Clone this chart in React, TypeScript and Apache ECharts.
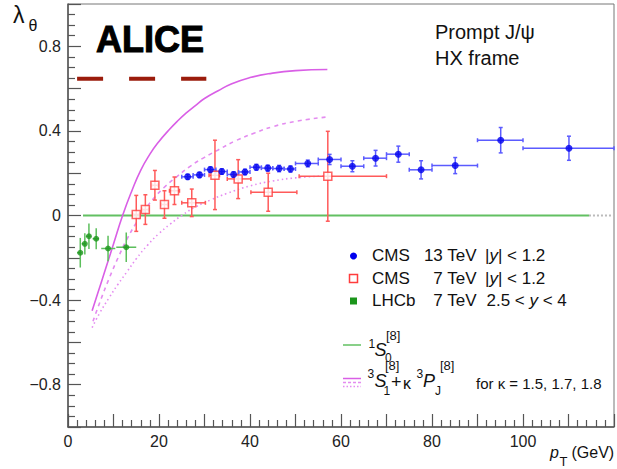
import React, { useEffect, useRef } from 'react';
import * as echarts from 'echarts';

const FONT = '"Liberation Sans", Arial, Helvetica, sans-serif';

// ---- data ----
const lhcbPt = [2.7, 3.7, 4.6, 6.2, 8.8, 12.8];
const lhcbLambda = [-0.176, -0.134, -0.098, -0.11, -0.156, -0.15];
const lhcbErr = [0.07, 0.05, 0.06, 0.05, 0.06, 0.07];
const lhcbPtLow = [2, 3, 4, 5.4, 7.3, 10.6];
const lhcbPtHigh = [3, 4, 5, 6.8, 10.4, 15];

const cms7Pt = [15, 17, 19.1, 21.2, 23.4, 27.2, 32.3, 37.4, 44, 57.1];
const cms7Lambda = [0.005, 0.028, 0.143, 0.052, 0.117, 0.06, 0.19, 0.173, 0.11, 0.186];
const cms7ErrUp = [0.09, 0.07, 0.07, 0.065, 0.065, 0.065, 0.166, 0.091, 0.09, 0.212];
const cms7ErrDown = [0.08, 0.07, 0.07, 0.065, 0.065, 0.065, 0.162, 0.093, 0.09, 0.213];
const cms7PtLow = [14.3, 16.3, 18.4, 20.5, 22.3, 25, 31, 35, 40.2, 50.8];
const cms7PtHigh = [15.7, 17.7, 19.8, 21.9, 24.5, 30.2, 33.3, 40.2, 50.3, 70];

const cms13Pt = [26.3, 28.9, 31.3, 33.8, 36.4, 38.9, 41.4, 43.9, 46.4, 48.9, 52.7, 57.5, 62.5, 67.6, 72.6, 77.6, 85.1, 95.1, 110.1];
const cms13Lambda = [0.183, 0.192, 0.217, 0.208, 0.194, 0.206, 0.228, 0.224, 0.222, 0.22, 0.246, 0.265, 0.233, 0.271, 0.29, 0.216, 0.236, 0.356, 0.318];
const cms13Err = [0.012, 0.012, 0.013, 0.013, 0.013, 0.013, 0.014, 0.014, 0.015, 0.015, 0.016, 0.024, 0.026, 0.037, 0.038, 0.043, 0.038, 0.06, 0.057];
const cms13PtLow = [25, 27.5, 30, 32.5, 35, 37.5, 40, 42.5, 45, 47.5, 50, 55, 60, 65, 70, 75, 80, 90, 100];
const cms13PtHigh = [27.5, 30, 32.5, 35, 37.5, 40, 42.5, 45, 47.5, 50, 55, 60, 65, 70, 75, 80, 90, 100, 120];

// NRQCD curves (kappa = 1.5, 1.7, 1.8)
const solidPt = [5.3, 6.5, 8, 10, 12, 14, 16, 18, 20, 22, 24, 26, 28, 30, 33, 36, 40, 44, 50, 57];
const solidLambda = [-0.45, -0.37, -0.27, -0.135, 0, 0.115, 0.215, 0.29, 0.35, 0.4, 0.445, 0.485, 0.52, 0.553, 0.59, 0.623, 0.652, 0.67, 0.685, 0.69];
const dashedPt = [5.5, 7, 9, 11, 13, 15, 17, 19, 21, 24, 27, 30, 33, 37, 41, 45, 50, 56.6];
const dashedLambda = [-0.5, -0.41, -0.3, -0.2, -0.11, -0.035, 0.03, 0.085, 0.13, 0.185, 0.235, 0.275, 0.31, 0.355, 0.39, 0.42, 0.445, 0.465];
const dottedPt = [5.3, 7, 9, 11, 13, 15, 17.5, 20, 22.5, 25, 28, 31.5, 35, 40, 45, 50, 56.6];
const dottedLambda = [-0.53, -0.46, -0.39, -0.325, -0.265, -0.205, -0.14, -0.085, -0.04, 0, 0.04, 0.075, 0.105, 0.14, 0.163, 0.178, 0.187];

const s0Pt = [3.3, 114.5];
const s0Lambda = [0, 0];
const s0ExtPt = [114.5, 120];
const s0ExtLambda = [0, 0];

const aliceBandPt = [2.0, 30.4];
const aliceBandLambda = [0.647, 0.647];

const xTickLabels = [0, 20, 40, 60, 80, 100];
const yTickLabels = [-0.8, -0.4, 0, 0.4, 0.8];

// ---- helpers ----
const zip = (a: number[], b: number[]) => a.map((v, i) => [v, b[i]]);

function errSeries(name: string, rows: number[][], color: string, cap: number) {
  return {
    type: 'custom',
    name,
    z: 3,
    silent: true,
    encode: { x: 0, y: 1 },
    data: rows,
    renderItem: (_p: any, api: any) => {
      const x = api.value(0), y = api.value(1);
      const xl = api.value(2), xh = api.value(3), yl = api.value(4), yh = api.value(5);
      const pL = api.coord([xl, y]);
      const pR = api.coord([xh, y]);
      const pB = api.coord([x, yl]);
      const pT = api.coord([x, yh]);
      const style = { stroke: color, lineWidth: 1.5 };
      const children: any[] = [
        { type: 'line', shape: { x1: pL[0], y1: pL[1], x2: pR[0], y2: pR[1] }, style },
        { type: 'line', shape: { x1: pB[0], y1: pB[1], x2: pT[0], y2: pT[1] }, style },
      ];
      if (cap > 0) {
        children.push(
          { type: 'line', shape: { x1: pL[0], y1: pL[1] - cap, x2: pL[0], y2: pL[1] + cap }, style },
          { type: 'line', shape: { x1: pR[0], y1: pR[1] - cap, x2: pR[0], y2: pR[1] + cap }, style },
          { type: 'line', shape: { x1: pB[0] - cap, y1: pB[1], x2: pB[0] + cap, y2: pB[1] }, style },
          { type: 'line', shape: { x1: pT[0] - cap, y1: pT[1], x2: pT[0] + cap, y2: pT[1] }, style },
        );
      }
      return { type: 'group', children };
    },
  };
}

const txt = (x: number, y: number, text: string, size: number, extra: any = {}) => ({
  type: 'text',
  x,
  y,
  silent: true,
  style: {
    text,
    fontFamily: FONT,
    fontSize: size,
    fill: '#111',
    align: 'left',
    verticalAlign: 'middle',
    textAlign: 'left',
    textVerticalAlign: 'middle',
    ...extra,
  },
});

const isLabel = (v: number, list: number[]) => list.some((t) => Math.abs(t - v) < 1e-6);
const fmtY = (v: number) => {
  if (!isLabel(v, yTickLabels)) return '';
  const r = Math.round(v * 10) / 10;
  if (r === 0) return '0';
  return r < 0 ? '\u2212' + Math.abs(r).toFixed(1) : r.toFixed(1);
};

const MAG = '#d95fe6';
const MAG_L = '#e48cf0';
const richY = {
  n: { fontFamily: FONT, fontSize: 17, fill: '#111' },
  i: { fontFamily: FONT, fontSize: 17, fontStyle: 'italic', fill: '#111' },
};

export default function App() {
  const ref = useRef<HTMLDivElement>(null);
  useEffect(() => {
    const chart = echarts.init(ref.current!, null, { renderer: 'svg' });
    const axisColor = '#555';
    const option: any = {
      animation: false,
      backgroundColor: '#fff',
      grid: { left: 68, top: 4, right: 2, bottom: 42, show: true, borderColor: '#777', borderWidth: 1 },
      xAxis: {
        type: 'value',
        min: 0,
        max: 120,
        interval: 10,
        axisLine: { show: true, onZero: false, lineStyle: { color: axisColor, width: 1.5 } },
        axisTick: { show: true, inside: true, length: 13, lineStyle: { color: axisColor, width: 1.2 } },
        minorTick: { show: true, splitNumber: 5, length: 7, lineStyle: { color: axisColor, width: 1.2 } },
        splitLine: { show: false },
        axisLabel: {
          formatter: (v: number) => (isLabel(v, xTickLabels) ? String(v) : ''),
          fontFamily: FONT,
          fontSize: 16,
          color: '#222',
          margin: 6,
        },
      },
      yAxis: {
        type: 'value',
        min: -1,
        max: 1,
        interval: 0.2,
        axisLine: { show: true, onZero: false, lineStyle: { color: axisColor, width: 1.5 } },
        axisTick: { show: true, inside: true, length: 13, lineStyle: { color: axisColor, width: 1.2 } },
        minorTick: { show: true, splitNumber: 4, length: 7, lineStyle: { color: axisColor, width: 1.2 } },
        splitLine: { show: false },
        axisLabel: { formatter: fmtY, fontFamily: FONT, fontSize: 16, color: '#222', margin: 7 },
      },
      series: [
        {
          type: 'line', name: 'ALICE band', data: zip(aliceBandPt, aliceBandLambda), symbol: 'none', z: 1,
          lineStyle: { color: '#9b1c0c', width: 4, type: [26, 26] }, silent: true,
        },
        {
          type: 'line', name: '1S0', data: zip(s0Pt, s0Lambda), symbol: 'none', z: 1,
          lineStyle: { color: '#62c062', width: 2 }, silent: true,
        },
        {
          type: 'line', name: '1S0 ext', data: zip(s0ExtPt, s0ExtLambda), symbol: 'none', z: 1,
          lineStyle: { color: '#bbbbbb', width: 2, type: [2, 2] }, silent: true,
        },
        {
          type: 'line', name: 'k1.5', data: zip(solidPt, solidLambda), symbol: 'none', smooth: 0.5, z: 2,
          lineStyle: { color: MAG, width: 1.6 }, silent: true,
        },
        {
          type: 'line', name: 'k1.7', data: zip(dashedPt, dashedLambda), symbol: 'none', smooth: 0.5, z: 2,
          lineStyle: { color: MAG_L, width: 1.6, type: [4, 4] }, silent: true,
        },
        {
          type: 'line', name: 'k1.8', data: zip(dottedPt, dottedLambda), symbol: 'none', smooth: 0.5, z: 2,
          lineStyle: { color: MAG_L, width: 1.6, type: [1.5, 3] }, silent: true,
        },
        errSeries('LHCb err', lhcbPt.map((p, i) => [p, lhcbLambda[i], lhcbPtLow[i], lhcbPtHigh[i], lhcbLambda[i] - lhcbErr[i], lhcbLambda[i] + lhcbErr[i]]), '#5cbf5c', 0),
        errSeries('CMS7 err', cms7Pt.map((p, i) => [p, cms7Lambda[i], cms7PtLow[i], cms7PtHigh[i], cms7Lambda[i] - cms7ErrDown[i], cms7Lambda[i] + cms7ErrUp[i]]), '#ff5a5a', 2),
        errSeries('CMS13 err', cms13Pt.map((p, i) => [p, cms13Lambda[i], cms13PtLow[i], cms13PtHigh[i], cms13Lambda[i] - cms13Err[i], cms13Lambda[i] + cms13Err[i]]), '#5b5bff', 2),
        {
          type: 'scatter', name: 'LHCb', data: zip(lhcbPt, lhcbLambda), symbol: 'circle', symbolSize: 6, z: 4,
          itemStyle: { color: '#1b951b' }, silent: true,
        },
        {
          type: 'scatter', name: 'CMS 7', data: zip(cms7Pt, cms7Lambda), symbol: 'rect', symbolSize: 8, z: 4,
          itemStyle: { color: '#ffffff', borderColor: '#ff3c3c', borderWidth: 1.5 }, silent: true,
        },
        {
          type: 'scatter', name: 'CMS 13', data: zip(cms13Pt, cms13Lambda), symbol: 'circle', symbolSize: 7, z: 4,
          itemStyle: { color: '#0000ee' }, silent: true,
        },
      ],
      graphic: [
        // ALICE logo
        txt(96, 39, 'ALICE', 36, { fontWeight: 'bold', fill: '#000', stroke: '#000', lineWidth: 1 }),
        // top-right
        txt(435, 31.7, 'Prompt J/\u03C8', 20),
        txt(435, 58.3, 'HX frame', 20),
        // y axis title
        txt(13, 15, '\u03BB', 23),
        txt(28.5, 25, '\u03B8', 16),
        // x axis title
        txt(550, 452.5, 'p', 16, { fontStyle: 'italic' }),
        txt(559.5, 461, 'T', 13),
        txt(571.5, 452.5, '(GeV)', 16),
        // legend markers
        { type: 'circle', shape: { cx: 353.5, cy: 256, r: 3.5 }, style: { fill: '#0000ee' }, silent: true },
        { type: 'rect', shape: { x: 349.5, y: 274.5, width: 8, height: 8 }, style: { fill: '#fff', stroke: '#ff3c3c', lineWidth: 1.5 }, silent: true },
        { type: 'rect', shape: { x: 350, y: 297.5, width: 7, height: 7 }, style: { fill: '#1b951b' }, silent: true },
        // legend texts
        txt(372, 255.5, 'CMS', 17),
        txt(476.5, 255.5, '13 TeV', 17, { align: 'right', textAlign: 'right' }),
        txt(485, 255.5, '{n||}{i|y}{n|| < 1.2}', 17, { rich: richY }),
        txt(372, 278, 'CMS', 17),
        txt(476.5, 278, '7 TeV', 17, { align: 'right', textAlign: 'right' }),
        txt(485, 278, '{n||}{i|y}{n|| < 1.2}', 17, { rich: richY }),
        txt(372, 300.5, 'LHCb', 17),
        txt(476.5, 300.5, '7 TeV', 17, { align: 'right', textAlign: 'right' }),
        txt(486.5, 300.5, '{n|2.5 < }{i|y}{n| < 4}', 17, { rich: richY }),
        // model legend lines
        { type: 'line', shape: { x1: 343, y1: 345, x2: 361, y2: 345 }, style: { stroke: '#62c062', lineWidth: 1.5 }, silent: true },
        { type: 'line', shape: { x1: 343, y1: 378.5, x2: 361, y2: 378.5 }, style: { stroke: MAG, lineWidth: 1.5 }, silent: true },
        { type: 'line', shape: { x1: 343, y1: 382.5, x2: 361, y2: 382.5 }, style: { stroke: MAG_L, lineWidth: 1.5, lineDash: [3, 2] }, silent: true },
        { type: 'line', shape: { x1: 343, y1: 386.5, x2: 361, y2: 386.5 }, style: { stroke: MAG_L, lineWidth: 1.5, lineDash: [1.5, 2] }, silent: true },
        // 1S0[8]
        txt(368.5, 344, '1', 12),
        txt(374.5, 349.5, 'S', 18, { fontStyle: 'italic' }),
        txt(385, 358, '0', 12),
        txt(386, 335, '[8]', 13),
        // 3S1[8] + k 3PJ[8]
        txt(367.5, 373.5, '3', 12),
        txt(374.5, 381, 'S', 18, { fontStyle: 'italic' }),
        txt(383.5, 391, '1', 12),
        txt(385, 365.5, '[8]', 13),
        txt(391, 382, '+', 18),
        txt(403, 383, '\u03BA', 16),
        txt(416.5, 373.5, '3', 12),
        txt(423, 381, 'P', 18, { fontStyle: 'italic' }),
        txt(435, 391, 'J', 12),
        txt(440, 365.5, '[8]', 13),
        txt(476, 383, 'for \u03BA = 1.5, 1.7, 1.8', 15),
      ],
    };
    chart.setOption(option);
    return () => chart.dispose();
  }, []);
  return (
    <div
      ref={ref}
      style={{ position: 'fixed', left: 0, top: 0, width: 617, height: 469, background: '#fff' }}
    />
  );
}
